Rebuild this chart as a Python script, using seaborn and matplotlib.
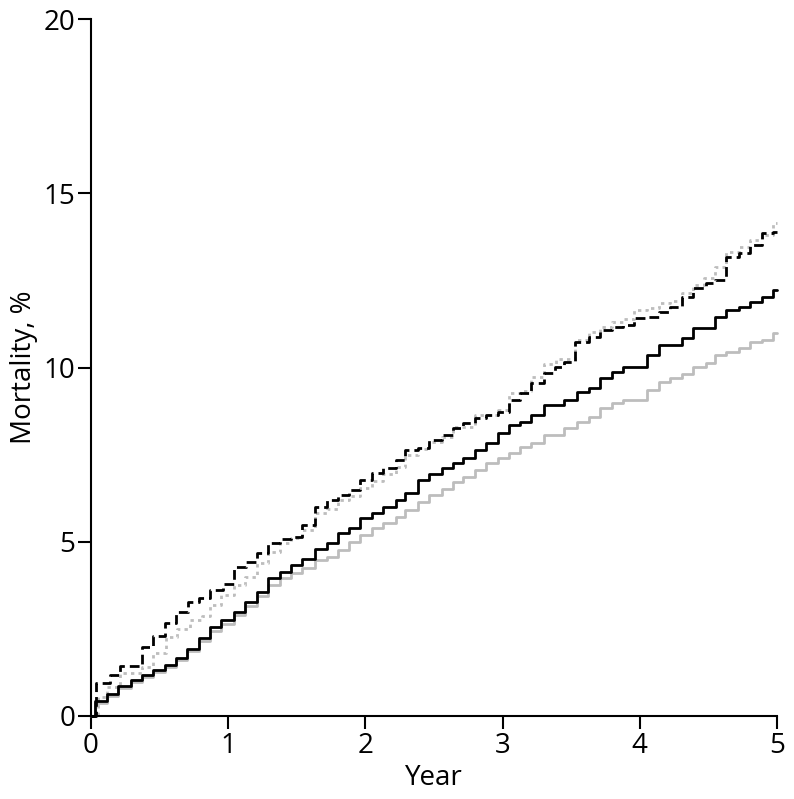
import matplotlib
matplotlib.use("Agg")
import matplotlib.pyplot as plt
import seaborn as sns
import pandas as pd

# ---- data ----
t_black = [0, 0.03, 0.12, 0.20, 0.29, 0.37, 0.45, 0.54, 0.62, 0.70, 0.79, 0.87, 0.95, 1.04, 1.12,
           1.21, 1.29, 1.38, 1.46, 1.54, 1.63, 1.72, 1.80, 1.88, 1.96, 2.05, 2.13, 2.22, 2.29, 2.38,
           2.46, 2.56, 2.64, 2.71, 2.80, 2.88, 2.97, 3.05, 3.13, 3.21, 3.30, 3.45, 3.54, 3.63, 3.71,
           3.80, 3.88, 4.05, 4.14, 4.31, 4.39, 4.55, 4.63, 4.72, 4.80, 4.89, 4.97, 5.0]
y_black = [0, 0.42, 0.62, 0.86, 1.02, 1.17, 1.32, 1.47, 1.67, 1.92, 2.24, 2.56, 2.75, 2.99, 3.28,
           3.57, 3.95, 4.14, 4.33, 4.50, 4.80, 4.96, 5.25, 5.39, 5.68, 5.82, 6.00, 6.20, 6.40, 6.77,
           6.94, 7.11, 7.25, 7.40, 7.63, 7.83, 8.12, 8.35, 8.44, 8.63, 8.92, 9.07, 9.30, 9.40, 9.70,
           9.88, 10.02, 10.36, 10.65, 10.85, 11.13, 11.46, 11.65, 11.75, 11.89, 12.03, 12.22, 12.22]

t_gray = [0, 0.03, 0.12, 0.20, 0.29, 0.37, 0.45, 0.54, 0.62, 0.70, 0.79, 0.87, 0.95, 1.04, 1.12,
          1.21, 1.29, 1.38, 1.46, 1.54, 1.63, 1.72, 1.80, 1.88, 1.96, 2.05, 2.13, 2.22, 2.29, 2.38,
          2.46, 2.56, 2.64, 2.71, 2.80, 2.88, 2.97, 3.05, 3.13, 3.21, 3.30, 3.45, 3.54, 3.63, 3.71,
          3.80, 3.88, 4.05, 4.14, 4.22, 4.31, 4.39, 4.48, 4.55, 4.63, 4.72, 4.80, 4.89, 4.97, 5.0]
y_gray = [0, 0.37, 0.57, 0.81, 0.98, 1.13, 1.27, 1.41, 1.61, 1.87, 2.15, 2.45, 2.65, 2.90, 3.15,
          3.45, 3.75, 3.95, 4.10, 4.25, 4.48, 4.57, 4.75, 5.00, 5.20, 5.39, 5.53, 5.72, 5.90, 6.15,
          6.34, 6.50, 6.72, 6.87, 7.06, 7.25, 7.40, 7.54, 7.73, 7.83, 8.06, 8.26, 8.44, 8.59, 8.83,
          8.98, 9.07, 9.35, 9.59, 9.70, 9.80, 10.02, 10.13, 10.36, 10.45, 10.55, 10.74, 10.80, 10.98, 10.98]

t_dash = [0, 0.04, 0.14, 0.21, 0.37, 0.45, 0.54, 0.62, 0.71, 0.79, 0.87, 0.96, 1.04, 1.13, 1.21,
          1.29, 1.38, 1.46, 1.54, 1.63, 1.72, 1.80, 1.88, 1.96, 2.05, 2.13, 2.22, 2.29, 2.38, 2.46,
          2.56, 2.64, 2.71, 2.80, 2.88, 2.97, 3.05, 3.13, 3.21, 3.30, 3.38, 3.45, 3.53, 3.63, 3.71,
          3.80, 3.88, 3.96, 4.05, 4.14, 4.22, 4.31, 4.39, 4.48, 4.55, 4.63, 4.72, 4.80, 4.89, 4.97, 5.0]
y_dash = [0, 0.95, 1.17, 1.43, 1.99, 2.30, 2.68, 2.99, 3.28, 3.38, 3.62, 3.80, 4.28, 4.43, 4.67,
          4.96, 5.07, 5.15, 5.48, 6.00, 6.20, 6.34, 6.49, 6.77, 6.97, 7.11, 7.35, 7.63, 7.70, 7.92,
          8.06, 8.26, 8.40, 8.55, 8.63, 8.73, 9.07, 9.27, 9.55, 9.84, 10.02, 10.16, 10.74, 10.88, 11.08,
          11.17, 11.22, 11.42, 11.46, 11.60, 11.74, 12.03, 12.28, 12.42, 12.50, 13.18, 13.28, 13.51, 13.85, 13.90, 13.90]

t_dot = [0, 0.05, 0.12, 0.21, 0.37, 0.45, 0.55, 0.63, 0.72, 0.81, 0.87, 0.95, 1.04, 1.12, 1.21,
         1.29, 1.38, 1.46, 1.54, 1.63, 1.72, 1.80, 1.88, 1.96, 2.05, 2.13, 2.22, 2.29, 2.38, 2.46,
         2.56, 2.64, 2.80, 2.97, 3.05, 3.13, 3.21, 3.30, 3.39, 3.53, 3.63, 3.71, 3.80, 3.88, 3.96,
         4.05, 4.14, 4.22, 4.31, 4.39, 4.47, 4.55, 4.63, 4.72, 4.80, 4.89, 4.97, 5.0]
y_dot = [0, 0.55, 0.84, 1.23, 1.41, 1.80, 2.26, 2.49, 2.75, 2.88, 3.19, 3.47, 3.76, 4.00, 4.38,
         4.71, 4.96, 5.10, 5.34, 5.82, 5.95, 6.20, 6.30, 6.54, 6.75, 6.95, 7.15, 7.50, 7.65, 7.85,
         8.00, 8.30, 8.63, 8.78, 9.27, 9.32, 9.74, 10.10, 10.25, 10.79, 11.03, 11.17, 11.31, 11.40, 11.65,
         11.70, 11.85, 11.90, 12.13, 12.37, 12.57, 12.89, 13.32, 13.46, 13.66, 13.80, 14.14, 14.14]

x_ticks = [0, 1, 2, 3, 4, 5]
y_ticks = [0, 5, 10, 15, 20]

# ---- plot ----
sns.set_style("ticks")
plt.rcParams['font.family'] = ['Open Sans', 'DejaVu Sans']
plt.rcParams['text.color'] = 'black'
plt.rcParams['axes.labelcolor'] = 'black'

fig = plt.figure(figsize=(7.94, 7.99), dpi=100)
ax = fig.add_axes([91/794, 1 - 716/799, (777 - 91)/794, (716 - 19)/799])

GRAY = "#bdbdbd"
sns.lineplot(x=t_gray, y=y_gray, ax=ax, color=GRAY, lw=2.0, drawstyle="steps-post",
             estimator=None, sort=False, clip_on=False)
sns.lineplot(x=t_dot, y=y_dot, ax=ax, color=GRAY, lw=2.0, drawstyle="steps-post",
             estimator=None, sort=False, dashes=False, linestyle=(0, (1.2, 1.5)), clip_on=False)
sns.lineplot(x=t_black, y=y_black, ax=ax, color="black", lw=2.0, drawstyle="steps-post",
             estimator=None, sort=False, clip_on=False)
sns.lineplot(x=t_dash, y=y_dash, ax=ax, color="black", lw=2.0, drawstyle="steps-post",
             estimator=None, sort=False, linestyle=(0, (3.5, 1.8)), clip_on=False)

ax.set_xlim(0, 5)
ax.set_ylim(0, 20)
ax.set_xticks(x_ticks)
ax.set_yticks(y_ticks)
ax.set_xticklabels([str(v) for v in x_ticks])
ax.set_yticklabels([str(v) for v in y_ticks])
for s in ["top", "right"]:
    ax.spines[s].set_visible(False)
for s in ["left", "bottom"]:
    ax.spines[s].set_linewidth(1.5)
    ax.spines[s].set_color("black")
ax.tick_params(axis="both", direction="out", length=9.5, width=1.5, colors="black",
               labelcolor="black", labelsize=20, pad=2)
ax.set_xlabel("Year", fontsize=20, labelpad=3, color="black")
ax.set_ylabel("Mortality, %", fontsize=20, labelpad=4, color="black")
ax.grid(False)

fig.savefig("out.png", dpi=100)
